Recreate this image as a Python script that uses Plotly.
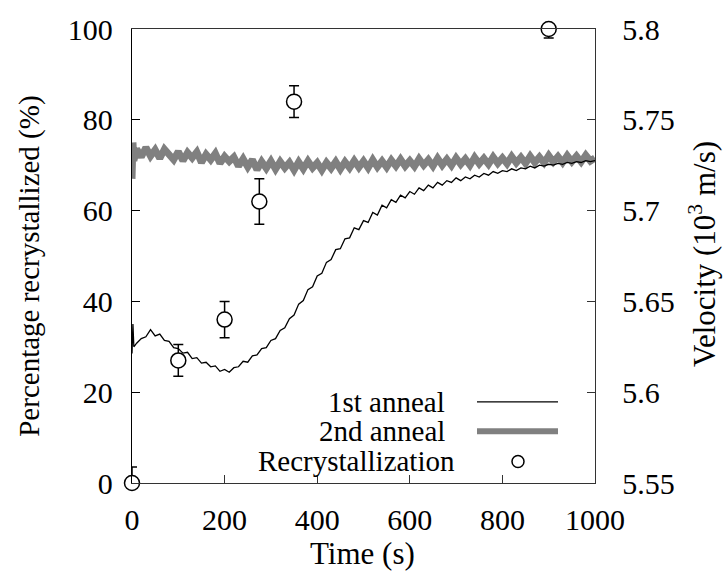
import plotly.graph_objects as go

# ---------------- data ----------------
time_1st = [0, 2, 4] + list(range(10, 1001, 10))
vel_1st = [5.6213, 5.6375, 5.6250,
           5.6270, 5.6295, 5.6305, 5.6345, 5.6310, 5.6320, 5.6285, 5.6280, 5.6245, 5.6240,
           5.6215, 5.6220, 5.6185, 5.6190, 5.6160, 5.6165, 5.6140, 5.6145, 5.6115, 5.6125,
           5.6110, 5.6135, 5.6140, 5.6170, 5.6165, 5.6200, 5.6205, 5.6240, 5.6245, 5.6285,
           5.6295, 5.6340, 5.6355, 5.6405, 5.6425, 5.6485, 5.6505, 5.6565, 5.6580, 5.6640,
           5.6655, 5.6715, 5.6730, 5.6785, 5.6790, 5.6845, 5.6850, 5.6905, 5.6895, 5.6945,
           5.6935, 5.6990, 5.6975, 5.7030, 5.7015, 5.7060, 5.7045, 5.7085, 5.7070, 5.7105,
           5.7090, 5.7125, 5.7110, 5.7140, 5.7125, 5.7155, 5.7140, 5.7165, 5.7155, 5.7180,
           5.7165, 5.7185, 5.7175, 5.7195, 5.7185, 5.7205, 5.7195, 5.7215, 5.7205, 5.7220,
           5.7215, 5.7230, 5.7220, 5.7235, 5.7230, 5.7245, 5.7235, 5.7250, 5.7245, 5.7255,
           5.7250, 5.7260, 5.7255, 5.7265, 5.7260, 5.7270, 5.7265, 5.7275, 5.7270, 5.7275]

time_2nd = [0, 2, 4] + list(range(10, 1001, 10))
vel_2nd = [5.7175, 5.7375, 5.7275,
           5.7340, 5.7295, 5.7348, 5.7300, 5.7335, 5.7288, 5.7338, 5.7310, 5.7280, 5.7325,
           5.7275, 5.7320, 5.7290, 5.7323, 5.7265, 5.7310, 5.7280, 5.7315, 5.7260, 5.7298,
           5.7270, 5.7295, 5.7245, 5.7285, 5.7240, 5.7280, 5.7225, 5.7270, 5.7233, 5.7273,
           5.7228, 5.7270, 5.7235, 5.7265, 5.7223, 5.7268, 5.7230, 5.7273, 5.7235, 5.7263,
           5.7223, 5.7265, 5.7233, 5.7270, 5.7228, 5.7268, 5.7235, 5.7275, 5.7238, 5.7273,
           5.7235, 5.7280, 5.7240, 5.7273, 5.7238, 5.7278, 5.7245, 5.7283, 5.7245, 5.7275,
           5.7243, 5.7285, 5.7250, 5.7280, 5.7245, 5.7288, 5.7250, 5.7283, 5.7248, 5.7290,
           5.7255, 5.7285, 5.7250, 5.7293, 5.7258, 5.7288, 5.7255, 5.7295, 5.7260, 5.7290,
           5.7258, 5.7298, 5.7263, 5.7293, 5.7260, 5.7300, 5.7265, 5.7295, 5.7263, 5.7303,
           5.7268, 5.7298, 5.7265, 5.7303, 5.7270, 5.7300, 5.7268, 5.7305, 5.7273, 5.7290]

rx_time = [0, 100, 200, 275, 350, 900]
rx_pct = [0, 27, 36, 62, 84, 100]
rx_err = [3.5, 3.5, 4, 5, 3.5, 2]

x_ticks = [0, 200, 400, 600, 800, 1000]
y_ticks = [0, 20, 40, 60, 80, 100]
y2_ticks = [5.55, 5.6, 5.65, 5.7, 5.75, 5.8]
y2_labels = ["5.55", "5.6", "5.65", "5.7", "5.75", "5.8"]

legend_labels = ["1st anneal", "2nd anneal", "Recrystallization"]

# ---------------- figure ----------------
FONT = "'Liberation Serif', 'Times New Roman', 'DejaVu Serif', serif"
L, R, T, B = 132, 595, 19, 483
W, H = 724, 573

fig = go.Figure()
fig.add_trace(go.Scatter(x=time_2nd, y=vel_2nd, yaxis="y2", mode="lines",
                         line=dict(color="#808080", width=7), showlegend=False))
fig.add_trace(go.Scatter(x=time_1st, y=vel_1st, yaxis="y2", mode="lines",
                         line=dict(color="black", width=1.3), showlegend=False))
fig.add_trace(go.Scatter(x=rx_time, y=rx_pct, mode="markers", cliponaxis=False,
                         marker=dict(symbol="circle", size=15, color="white",
                                     line=dict(color="black", width=1.5)),
                         error_y=dict(type="data", array=rx_err, color="black",
                                      thickness=1.5, width=5),
                         showlegend=False))


def px(xp):
    return (xp - L) / (R - L)


def py(yp):
    return (B - yp) / (B - T)


ann = []
shapes = []
# legend
rows = [400, 430, 461]
text_right = [447, 447, 457]
for lab, yy, xr in zip(legend_labels, rows, text_right):
    ann.append(dict(x=px(xr), y=py(yy), xref="paper", yref="paper", text=lab,
                    showarrow=False, xanchor="right", yanchor="middle",
                    font=dict(family=FONT, size=29, color="black")))
shapes.append(dict(type="line", xref="paper", yref="paper", x0=px(477), x1=px(558),
                   y0=py(rows[0]), y1=py(rows[0]), line=dict(color="black", width=1.3)))
shapes.append(dict(type="line", xref="paper", yref="paper", x0=px(477), x1=px(558),
                   y0=py(rows[1]), y1=py(rows[1]), line=dict(color="#808080", width=6)))
shapes.append(dict(type="circle", xref="paper", yref="paper", xsizemode="pixel",
                   ysizemode="pixel", xanchor=px(518), yanchor=py(rows[2]),
                   x0=-6, x1=6, y0=-6, y1=6, line=dict(color="black", width=1.5),
                   fillcolor="white"))

# axis titles
ann.append(dict(x=px(362), y=py(555), xref="paper", yref="paper", text="Time (s)",
                showarrow=False, xanchor="center", yanchor="middle",
                font=dict(family=FONT, size=31, color="black")))
ann.append(dict(x=px(30), y=py(262), xref="paper", yref="paper",
                text="Percentage recrystallized (%)", textangle=-90,
                showarrow=False, xanchor="center", yanchor="middle",
                font=dict(family=FONT, size=29, color="black")))
ann.append(dict(x=px(702), y=py(249), xref="paper", yref="paper",
                text="Velocity (10<sup>3</sup> m/s)", textangle=-90,
                showarrow=False, xanchor="center", yanchor="middle",
                font=dict(family=FONT, size=31, color="black")))

fig.update_layout(
    width=W, height=H,
    margin=dict(l=L, r=W - R, t=T, b=H - B),
    paper_bgcolor="white", plot_bgcolor="white",
    font=dict(family=FONT, size=30, color="black"),
    showlegend=False,
    xaxis=dict(range=[0, 1000], tickvals=x_ticks, ticks="inside", ticklen=8,
               tickcolor="#333", showline=True, linecolor="#333", linewidth=1.3,
               mirror=True, showgrid=False, zeroline=False, ticklabelstandoff=10),
    yaxis=dict(range=[0, 100], tickvals=y_ticks, ticks="inside", ticklen=8,
               tickcolor="black", showline=True, linecolor="black", linewidth=1.3,
               showgrid=False, zeroline=False, ticklabelstandoff=12),
    yaxis2=dict(range=[5.55, 5.8], tickvals=y2_ticks, ticktext=y2_labels,
                overlaying="y", side="right", ticks="inside", ticklen=8,
                tickcolor="#333", showline=True, linecolor="#333", linewidth=1.3,
                showgrid=False, zeroline=False, ticklabelstandoff=20),
    annotations=ann, shapes=shapes,
)

fig.write_html("out.html", post_script="document.body.style.margin='0';",
               config={"displayModeBar": False})
